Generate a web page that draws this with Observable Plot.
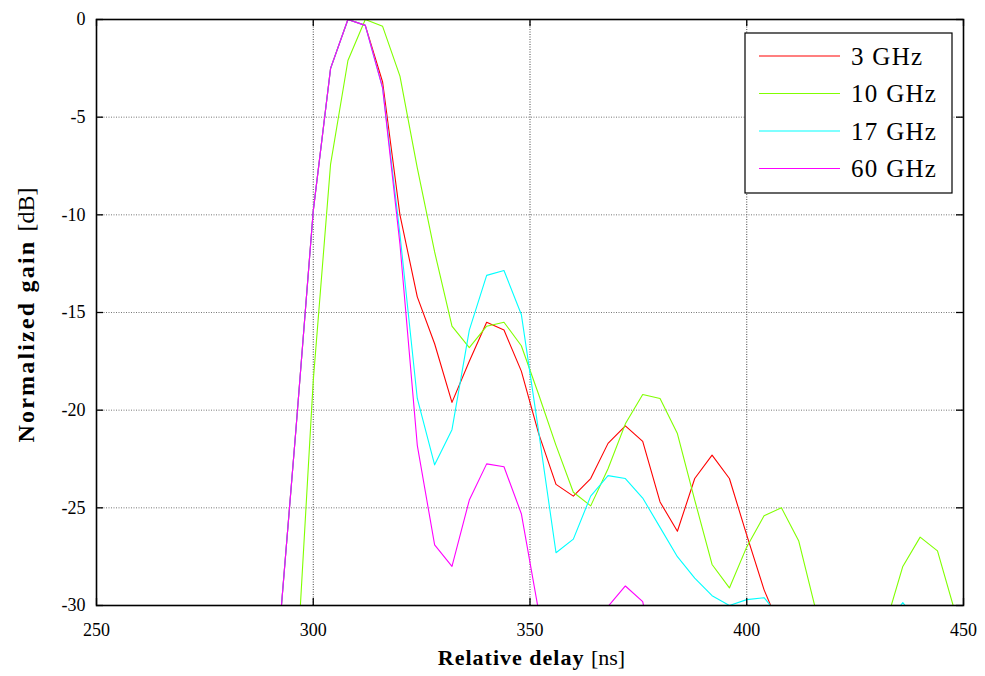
<!DOCTYPE html>
<html>
<head>
<meta charset="utf-8">
<script src="https://cdn.jsdelivr.net/npm/d3@7"></script>
<script src="https://cdn.jsdelivr.net/npm/@observablehq/plot@0.6"></script>
<style>
  body { margin: 0; background: #fff; }
  #chart { position: relative; width: 985px; height: 676px; }
</style>
</head>
<body>
<div id="chart"></div>
<script>
// ---- data ----
const delays = [288, 292, 296, 300, 304, 308, 312, 316, 320, 324, 328, 332, 336, 340, 344, 348,
  352, 356, 360, 364, 368, 372, 376, 380, 384, 388, 392, 396, 400, 404, 408, 412, 416, 420,
  424, 428, 432, 436, 440, 444, 448];

const gain3GHz = [-40, -31.8, -21.0, -9.8, -2.5, 0, -0.3, -3.2, -10.0, -14.2, -16.6, -19.6, -17.5,
  -15.5, -15.9, -18.0, -21.2, -23.8, -24.4, -23.5, -21.7, -20.8, -21.6, -24.7, -26.2, -23.5, -22.3,
  -23.5, -26.4, -29.2, -31.3, -33, -35, -36, -34, -35, -36, -34, -35, -36, -37];

const gain10GHz = [-40, -40, -34, -18.5, -7.4, -2.1, 0, -0.35, -2.9, -7.6, -11.9, -15.7, -16.8,
  -15.7, -15.5, -16.7, -19.2, -21.8, -24.2, -24.9, -23.0, -20.7, -19.2, -19.4, -21.2, -24.6, -27.9,
  -29.1, -27.0, -25.4, -25.0, -26.7, -30.3, -34, -36, -35, -31, -28.0, -26.5, -27.2, -30.3];

const gain17GHz = [-40, -31.8, -21.0, -9.8, -2.5, 0, -0.3, -3.5, -11.0, -19.4, -22.8, -21.0, -15.9,
  -13.1, -12.85, -15.1, -21.1, -27.3, -26.6, -24.4, -23.35, -23.5, -24.5, -26.0, -27.5, -28.6, -29.5,
  -30.0, -29.7, -29.6, -30.7, -33, -35, -36, -34, -33, -31, -29.85, -31, -34, -35];

const gain60GHz = [-40, -31.8, -21.0, -9.8, -2.5, 0, -0.3, -3.5, -11.5, -21.8, -26.9, -28.0, -24.6,
  -22.75, -22.9, -25.3, -30.3, -34, -35, -33, -30.05, -29.0, -29.8, -34, -36, -37, -38, -37, -36,
  -38, -37, -38, -39, -38, -37, -38, -39, -38, -37, -38, -39];

const seriesNames = ["3 GHz", "10 GHz", "17 GHz", "60 GHz"];
const seriesGains = [gain3GHz, gain10GHz, gain17GHz, gain60GHz];
const seriesColors = ["#ff0000", "#80ff00", "#00ffff", "#ff00ff"];

const xTicks = [250, 300, 350, 400, 450];
const yTicks = [0, -5, -10, -15, -20, -25, -30];

// ---- table for Plot ----
const rows = [];
seriesNames.forEach((name, i) => {
  delays.forEach((d, j) => rows.push({ delay: d, gain: seriesGains[i][j], series: name }));
});

const W = 985, H = 676, mL = 96, mR = 22, mT = 19, mB = 71;
const fw = W - mL - mR, fh = H - mT - mB;
const serif = "'Liberation Serif', 'Times New Roman', serif";

const chart = Plot.plot({
  width: W, height: H,
  marginLeft: mL, marginRight: mR, marginTop: mT, marginBottom: mB,
  style: { fontFamily: serif, fontSize: "18px", background: "#fff", color: "#000", overflow: "visible" },
  x: { domain: [250, 450], ticks: xTicks, label: null },
  y: { domain: [-30, 0], ticks: yTicks, label: null },
  color: { domain: seriesNames, range: seriesColors },
  marks: [
    Plot.gridX(xTicks.slice(1, -1), { stroke: "#444", strokeOpacity: 1, strokeDasharray: "1,1.5", strokeWidth: 1 }),
    Plot.gridY(yTicks.slice(1, -1), { stroke: "#777", strokeOpacity: 1, strokeDasharray: "1,1.5", strokeWidth: 1 }),
    Plot.line(rows, { x: "delay", y: "gain", z: "series", stroke: "series", strokeWidth: 1.1, clip: true }),
    Plot.frame({ stroke: "#000", strokeWidth: 1.6 }),
    Plot.tickX(xTicks, { x: d => d, insetTop: fh - 7, stroke: "#000", strokeWidth: 1.3 }),
    Plot.tickX(xTicks, { x: d => d, insetBottom: fh - 7, stroke: "#000", strokeWidth: 1.3 }),
    Plot.tickY(yTicks, { y: d => d, insetRight: fw - 7, stroke: "#000", strokeWidth: 1.3 }),
    Plot.tickY(yTicks, { y: d => d, insetLeft: fw - 7, stroke: "#000", strokeWidth: 1.3 }),
    Plot.axisX({ ticks: xTicks, tickSize: 0, tickPadding: 18, fontSize: 18, tickFormat: d => String(d), label: null }),
    Plot.axisY({ ticks: yTicks, tickSize: 0, tickPadding: 11, fontSize: 18, tickFormat: d => String(d), label: null })
  ]
});

document.getElementById("chart").appendChild(chart);

// ---- axis titles and legend ----
const svg = d3.select(chart);

const xt = svg.append("text")
  .attr("x", (mL + W - mR) / 2 + 2).attr("y", 665)
  .attr("text-anchor", "middle")
  .style("font-family", serif).style("font-size", "22px").attr("fill", "#000");
xt.append("tspan").attr("font-weight", "bold").style("letter-spacing", "1px").text("Relative delay ");
xt.append("tspan").attr("font-weight", "normal").text("[ns]");

const yt = svg.append("text")
  .attr("transform", `translate(34, 315) rotate(-90)`)
  .attr("text-anchor", "middle")
  .style("font-family", serif).style("font-size", "24px").attr("fill", "#000");
yt.append("tspan").attr("font-weight", "bold").style("letter-spacing", "2.2px").text("Normalized gain ");
yt.append("tspan").attr("font-weight", "normal").text("[dB]");

const lg = svg.append("g");
lg.append("rect").attr("x", 745).attr("y", 33).attr("width", 207).attr("height", 160)
  .attr("fill", "#fff").attr("stroke", "#000").attr("stroke-width", 1.2);
seriesNames.forEach((name, i) => {
  const yy = 56 + i * 37.5;
  lg.append("line").attr("x1", 759).attr("x2", 840).attr("y1", yy).attr("y2", yy)
    .attr("stroke", seriesColors[i]).attr("stroke-width", 1.1);
  lg.append("text").attr("x", 851).attr("y", yy).attr("dy", "0.35em")
    .attr("text-anchor", "start")
    .style("font-family", serif).style("font-size", "25px").style("letter-spacing", "1.3px")
    .attr("fill", "#000").text(name);
});
</script>
</body>
</html>
